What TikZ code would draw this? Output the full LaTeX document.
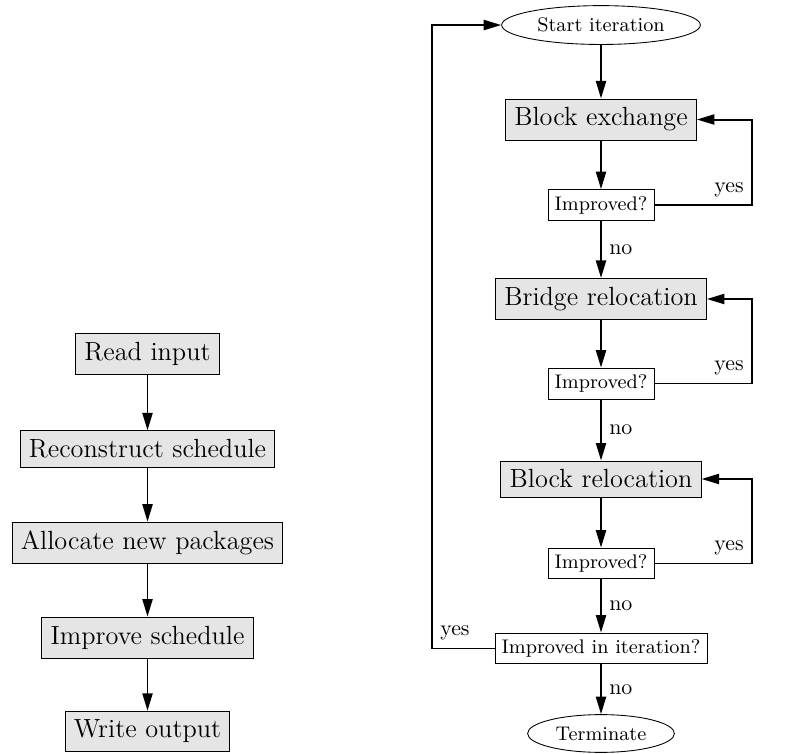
\documentclass[tikz,border=0pt]{standalone}
\usepackage{tikz}
\usetikzlibrary{shapes.geometric,arrows.meta}

\begin{document}
\begin{tikzpicture}[>={Triangle[length=8pt,width=4.6pt]},
   box/.style={draw,thin,fill=gray!20,font=\large,inner sep=4pt},
   test/.style={draw,thin,fill=white,font=\small,inner sep=3pt},
   term/.style={draw,thin,ellipse,font=\small,inner sep=3pt},
   flow/.style={->,line width=0.9pt}]
   \useasboundingbox (0,0) rectangle (12.853,12.083);
   % left column
   \node[box] (read)  at (2.367,6.402) {Read input};
   \node[box] (recon) at (2.367,4.878) {Reconstruct schedule};
   \node[box] (alloc) at (2.367,3.370) {Allocate new packages};
   \node[box] (impr)  at (2.367,1.853) {Improve schedule};
   \node[box] (write) at (2.367,0.345) {Write output};
   \draw[flow] (read) -- (recon);
   \draw[flow] (recon) -- (alloc);
   \draw[flow] (alloc) -- (impr);
   \draw[flow] (impr) -- (write);
   % right column
   \node[term] (start) at (9.644,11.681) {Start iteration};
   \node[box]  (blkx)  at (9.644,10.165) {Block exchange};
   \node[test] (imp1)  at (9.644,8.793) {Improved?};
   \node[box]  (brdg)  at (9.644,7.285) {Bridge relocation};
   \node[test] (imp2)  at (9.644,5.929) {Improved?};
   \node[box]  (blkr)  at (9.644,4.397) {Block relocation};
   \node[test] (imp3)  at (9.644,3.041) {Improved?};
   \node[test] (iter)  at (9.644,1.677) {Improved in iteration?};
   \node[term] (stop)  at (9.644,0.313) {Terminate};
   \coordinate (rloop) at (12.067,0);
   \coordinate (lloop) at (6.932,0);
   \draw[flow] (start) -- (blkx);
   \draw[flow] (blkx) -- (imp1);
   \draw[flow] (imp1) -- node[right]{no} (brdg);
   \draw[flow] (brdg) -- (imp2);
   \draw[flow] (imp2) -- node[right]{no} (blkr);
   \draw[flow] (blkr) -- (imp3);
   \draw[flow] (imp3) -- node[right]{no} (iter);
   \draw[flow] (iter) -- node[right]{no} (stop);
   \draw[flow] (imp1.east) -- (imp1.east -| rloop) node[above left]{yes} |- (blkx.east);
   \draw[flow] (imp2.east) -- (imp2.east -| rloop) node[above left]{yes} |- (brdg.east);
   \draw[flow] (imp3.east) -- (imp3.east -| rloop) node[above left]{yes} |- (blkr.east);
   \draw[flow] (iter.west) -- (iter.west -| lloop) node[above right]{yes} |- (start.west);
\end{tikzpicture}
\end{document}
